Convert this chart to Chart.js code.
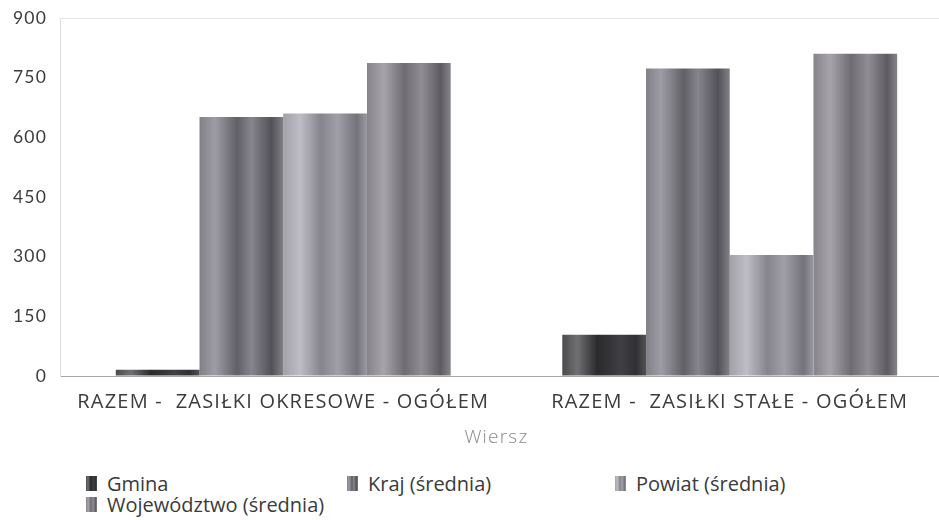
<!DOCTYPE html>
<html>
<head>
<meta charset="utf-8">
<script src="https://cdn.jsdelivr.net/npm/chart.js@4"></script>
<style>
    html, body { margin: 0; padding: 0; background: #fff; overflow: hidden; }
    #wrap { position: relative; width: 939px; height: 520px; overflow: hidden; }
    #wykres { position: absolute; left: 0; top: 0; }
    #legenda {
        position: absolute; left: 86px; top: 473px;
        display: grid; grid-template-columns: 261px 268px 268px;
        font-family: "Open Sans", sans-serif; font-size: 20px; color: #3a3a3a;
    }
    .pozycja { display: flex; align-items: center; height: 21px; }
    .kolor { width: 11px; height: 15px; margin-right: 10px; }
</style>
</head>
<body>
<div id="wrap">
    <canvas id="wykres" width="953" height="460"></canvas>
    <div id="legenda"></div>
</div>
<script>
const kategorie = ["RAZEM -  ZASIŁKI OKRESOWE - OGÓŁEM", "RAZEM -  ZASIŁKI STAŁE - OGÓŁEM"];
const serie = ["Gmina", "Kraj (średnia)", "Powiat (średnia)", "Województwo (średnia)"];
const gmina = [16, 104];
const kraj = [651, 773];
const powiat = [660, 304];
const wojewodztwo = [787, 810];
const osY = [0, 150, 300, 450, 600, 750, 900];

const kolorTekstu = "#3c3c3c";

// cylindryczne cieniowanie słupków (stop, kolor)
const paletySlupkow = [
    [[0, "#4a4a4c"], [0.18, "#707074"], [0.42, "#2a2a2c"], [0.7, "#404044"], [0.88, "#303034"], [1, "#525256"]],
    [[0, "#828087"], [0.18, "#9e9ca4"], [0.45, "#626067"], [0.62, "#86848c"], [0.86, "#545259"], [1, "#828087"]],
    [[0, "#a2a0a8"], [0.2, "#bebcc4"], [0.45, "#86848c"], [0.65, "#a09ea6"], [0.88, "#74727a"], [1, "#9a98a0"]],
    [[0, "#86848a"], [0.2, "#a6a4aa"], [0.45, "#6e6c72"], [0.65, "#908e94"], [0.88, "#5e5c62"], [1, "#86848a"]]
];

const cieniowanie = {
    id: "cieniowanie",
    beforeDraw(chart) {
        chart.ctx.letterSpacing = "1.2px";
    },
    beforeDatasetsDraw(chart) {
        const ctx = chart.ctx;
        ctx.letterSpacing = "0px";
        chart.data.datasets.forEach((ds, i) => {
            chart.getDatasetMeta(i).data.forEach(slupek => {
                const lewo = slupek.x - slupek.width / 2;
                const g = ctx.createLinearGradient(lewo, 0, lewo + slupek.width, 0);
                paletySlupkow[i].forEach(([stop, kolor]) => g.addColorStop(stop, kolor));
                slupek.options = Object.assign({}, slupek.options, { backgroundColor: g });
            });
        });
    }
};

const dane = [gmina, kraj, powiat, wojewodztwo];

new Chart(document.getElementById("wykres"), {
    type: "bar",
    data: {
        labels: kategorie,
        datasets: serie.map((nazwa, i) => ({
            label: nazwa,
            data: dane[i],
            backgroundColor: () => paletySlupkow[i][1][1],
            borderWidth: 0,
            barPercentage: 1,
            categoryPercentage: 0.75
        }))
    },
    options: {
        responsive: false,
        animation: false,
        layout: { padding: { top: 18, right: 0, left: 0, bottom: 0 } },
        plugins: { legend: { display: false }, tooltip: { enabled: false } },
        scales: {
            x: {
                grid: { display: false },
                border: { color: "#a8a8a8", width: 1 },
                ticks: { color: kolorTekstu, font: { family: "Open Sans", size: 20 }, padding: 6, maxRotation: 0 },
                title: {
                    display: true, text: "Wiersz\u2003", color: "#8a8a8a",
                    font: { family: "Open Sans", size: 19, weight: 300 },
                    padding: { top: 10, bottom: 11 }
                },
                afterFit: skala => { skala.height = 84; }
            },
            y: {
                min: 0, max: 900,
                afterBuildTicks: skala => { skala.ticks = osY.map(v => ({ value: v })); },
                grid: {
                    drawTicks: false,
                    color: c => c.tick && c.tick.value === 900 ? "#e4e4e4" : "rgba(0,0,0,0)"
                },
                border: { color: "#e0e0e0", width: 1 },
                ticks: { color: kolorTekstu, font: { family: "Lato", size: 17.5 }, padding: 13 },
                afterFit: skala => { skala.width = 60; skala.paddingTop = 0; skala.paddingBottom = 0; }
            }
        }
    },
    plugins: [cieniowanie]
});

// legenda w układzie siatki
const legenda = document.getElementById("legenda");
serie.forEach((nazwa, i) => {
    const poz = document.createElement("div");
    poz.className = "pozycja";
    const kolor = document.createElement("span");
    kolor.className = "kolor";
    kolor.style.background = `linear-gradient(to right, ${paletySlupkow[i].map(([s, k]) => `${k} ${s * 100}%`).join(", ")})`;
    const tekst = document.createElement("span");
    tekst.textContent = nazwa;
    poz.appendChild(kolor);
    poz.appendChild(tekst);
    legenda.appendChild(poz);
});
</script>
</body>
</html>
